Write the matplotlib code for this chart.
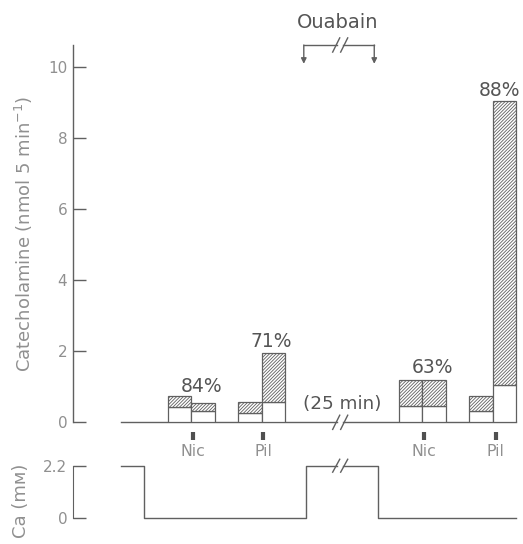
import matplotlib
matplotlib.use('Agg')
import matplotlib.pyplot as plt
import numpy as np

plt.rcParams['font.family'] = ['DejaVu Sans']
plt.rcParams['mathtext.default'] = 'regular'
plt.rcParams['hatch.linewidth'] = 0.6
plt.rcParams['hatch.color'] = '#707070'

# collection periods (left edge of each 5 min bar)
periods = [2, 3, 5, 6, 11.85, 12.85, 14.85, 15.85]
total = [0.74, 0.55, 0.56, 1.96, 1.19, 1.19, 0.75, 9.06]
basal = [0.44, 0.33, 0.27, 0.56, 0.46, 0.46, 0.33, 1.05]

# percentage labels
pct_text = ['84%', '71%', '63%', '88%']
pct_x = [3.46, 6.4, 13.29, 16.14]
pct_y = [1.02, 2.29, 1.53, 9.36]

# stimuli
stim_names = ['Nic', 'Pil', 'Nic', 'Pil']
stim_x = [3.07, 6.07, 12.92, 15.98]

# Ca trace
ca_t = [0, 1.0, 1.0, 7.9, 7.9, 10.94, 10.94, 16.85]
ca_v = [2.2, 2.2, 0, 0, 2.2, 2.2, 0, 0]

ouabain = [7.8, 10.8]
brk = 9.35
t_end = 16.85

axcol = '#606060'
tickcol = '#909090'
txtcol = '#555555'

fig = plt.figure(figsize=(5.23, 5.44), dpi=100)
ax = fig.add_axes([0.139, 0.2237, 0.855, 0.6936])
ax2 = fig.add_axes([0.139, 0.0472, 0.855, 0.0967])

xl = (-2.04, 17.0)

# top panel
ax.set_xlim(*xl)
ax.set_ylim(0, 10.63)
for s in ['top', 'right', 'bottom']:
    ax.spines[s].set_visible(False)
ax.spines['left'].set_color(axcol)
ax.spines['left'].set_linewidth(1.0)
ax.set_xticks([])
ax.set_yticks([0, 2, 4, 6, 8, 10])
ax.tick_params(axis='y', direction='in', length=9, width=1.0, color=axcol,
               labelcolor=tickcol, labelsize=11, pad=4)
ax.set_ylabel('Catecholamine (nmol 5 min$^{-1}$)', fontsize=13, color=tickcol, labelpad=9)

for x, t, b in zip(periods, total, basal):
    ax.bar(x, b, width=1, align='edge', facecolor='white', edgecolor=axcol, linewidth=0.9, zorder=3)
    ax.bar(x, t - b, bottom=b, width=1, align='edge', facecolor='white', edgecolor=axcol,
           hatch='/' * 10, linewidth=0.9, zorder=3)

for s, x, y in zip(pct_text, pct_x, pct_y):
    ax.text(x, y, s, ha='center', va='center', fontsize=13.5, color=txtcol)

# baseline with break
gap = 0.12
ax.plot([0, brk - gap], [0, 0], color=axcol, lw=1.0, clip_on=False)
ax.plot([brk + gap, t_end], [0, 0], color=axcol, lw=1.0, clip_on=False)
for d in (-gap - 0.05, gap + 0.05):
    ax.plot([brk + d - 0.15, brk + d + 0.15], [-0.2, 0.2], color=axcol, lw=1.0, clip_on=False)
ax.text(9.42, 0.52, '(25 min)', ha='center', va='center', fontsize=13.2, color=txtcol)

# stimulus markers
for n, x in zip(stim_names, stim_x):
    ax.plot([x, x], [-0.27, -0.5], color='#505050', lw=3, solid_capstyle='butt', clip_on=False)
    ax.text(x, -0.82, n, ha='center', va='center', fontsize=11.4, color=tickcol)

# ouabain bracket
yb = 10.63
ax.plot([ouabain[0], brk - 0.12], [yb, yb], color=axcol, lw=1.0, clip_on=False)
ax.plot([brk + 0.12, ouabain[1]], [yb, yb], color=axcol, lw=1.0, clip_on=False)
for d in (-0.17, 0.17):
    ax.plot([brk + d - 0.15, brk + d + 0.15], [yb - 0.2, yb + 0.2], color=axcol, lw=1.0, clip_on=False)
for x in ouabain:
    ax.annotate('', xy=(x, 10.1), xytext=(x, yb), annotation_clip=False,
                arrowprops=dict(arrowstyle='-|>', color=axcol, lw=1.0, mutation_scale=8,
                                shrinkA=0, shrinkB=0))
ax.text(brk - 0.1, 11.25, 'Ouabain', ha='center', va='center', fontsize=14, color=txtcol)

# Ca panel
ax2.set_xlim(*xl)
ax2.set_ylim(0, 2.2)
for s in ['top', 'right', 'bottom']:
    ax2.spines[s].set_visible(False)
ax2.spines['left'].set_color(axcol)
ax2.set_xticks([])
ax2.set_yticks([0, 2.2])
ax2.set_yticklabels(['0', '2.2'])
ax2.tick_params(axis='y', direction='in', length=9, width=1.0, color=axcol,
                labelcolor=tickcol, labelsize=11, pad=4)
ax2.set_ylabel('Ca (m\u1d0d)', fontsize=13, color=tickcol)
ax2.yaxis.set_label_coords(-0.096, 0.33)

t = np.array(ca_t)
v = np.array(ca_v)
# break in the high Ca segment during ouabain
seg1 = t <= 7.9 + 1e-9
ax2.plot(list(t[seg1]) + [brk - 0.12], list(v[seg1]) + [2.2], color=axcol, lw=1.0, clip_on=False)
ax2.plot([brk + 0.12] + list(t[~seg1]), [2.2] + list(v[~seg1]), color=axcol, lw=1.0, clip_on=False)
for d in (-0.17, 0.17):
    ax2.plot([brk + d - 0.15, brk + d + 0.15], [2.2 - 0.27, 2.2 + 0.27], color=axcol, lw=1.0, clip_on=False)

fig.savefig('out.png', dpi=100)
